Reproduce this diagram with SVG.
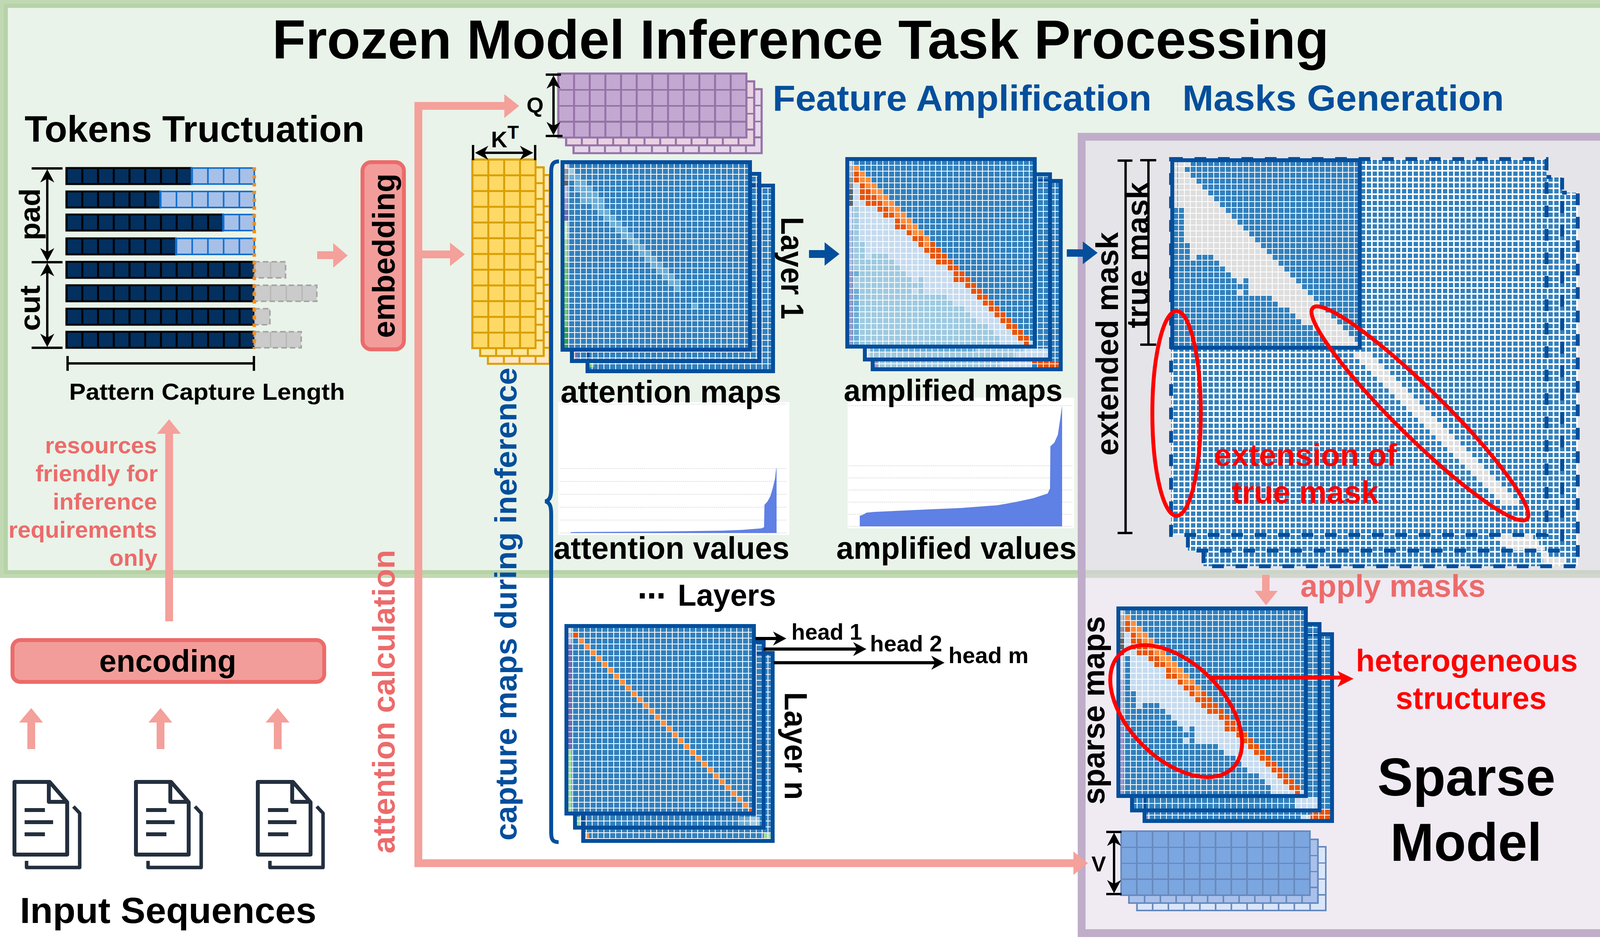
<svg xmlns="http://www.w3.org/2000/svg" width="4122" height="2403" viewBox="0 0 4122 2403">
<style>
text{font-family:"Liberation Sans",Arial,sans-serif;font-weight:700;fill:#000}
.blue{fill:#044E9C}.red{fill:#F00}.pink{fill:#EC6B6B}
.cell{fill:none;stroke-width:1}
.lb{stroke:#C6DBEF}.mid{stroke:#9ECAE1}.bm{stroke:#6BAED6}.dk{stroke:#E6550D}.lt{stroke:#FD8D3C}.gy{stroke:#DEDEDE}
.bar{fill:none;stroke-width:.57}
.mb{fill:#3180BD}
.mg{fill:url(#g15);stroke:#044E9C;stroke-width:10}
.xb{fill:#3180BD}
.xg{fill:url(#g15x);stroke:#044E9C;stroke-width:10;stroke-dasharray:30 30}
.pk{fill:#F4A09B}
.bx{fill:#F29D9A;stroke:#EC6B6B;stroke-width:10}
.dim{fill:none;stroke:#000;stroke-width:6}
.ar{stroke:#000;stroke-width:6;marker-start:url(#ah);marker-end:url(#ah)}
.hd{stroke:#000;stroke-width:8;marker-end:url(#ah)}
.ring{fill:none;stroke:#F00;stroke-width:10}
.doc{fill:none;stroke:#232F3E;stroke-width:10;stroke-linejoin:round}
.q{stroke:#9672A8;stroke-width:5}.y{stroke:#D99F00;stroke-width:5}.v{stroke:#6689BE;stroke-width:4}
.td{fill:url(#vd);stroke:#000;stroke-width:5}.tl{fill:url(#vl);stroke:#0F6FD0;stroke-width:4}.tg{fill:url(#vg);stroke:#A5A5A5;stroke-width:4;stroke-dasharray:14 8}
.chart{fill:#fff}.gl{stroke:#DCDCDC;stroke-width:2;stroke-dasharray:3 2}.bars{fill:#5F80E4}
</style>
<defs>
<pattern id="gu" patternUnits="userSpaceOnUse" width="1" height="1"><path fill="#fff" d="M0,0H.14V1H0ZM0,0H1V.14H0Z"/></pattern>
<pattern id="g15" patternUnits="userSpaceOnUse" width="15" height="15"><path fill="#fff" d="M0,0H2V15H0ZM0,0H15V2H0Z"/></pattern>
<pattern id="g15x" patternUnits="userSpaceOnUse" width="15" height="15"><path fill="#fff" d="M0,0H4V15H0ZM0,0H15V4H0Z"/></pattern>
<pattern id="pq" patternUnits="userSpaceOnUse" x="-2" y="-2" width="40.1" height="41"><path fill="#9672A8" d="M0,0H5V41H0ZM0,0H41V5H0Z"/></pattern>
<pattern id="py" patternUnits="userSpaceOnUse" x="-2" y="-2" width="40.6" height="40.25"><path fill="#D99F00" d="M0,0H5V41H0ZM0,0H41V5H0Z"/></pattern>
<pattern id="pv" patternUnits="userSpaceOnUse" x="-2" y="-2" width="40.3" height="41"><path fill="#6689BE" d="M0,0H4V41H0ZM0,0H41V4H0Z"/></pattern>
<pattern id="vd" patternUnits="userSpaceOnUse" x="168" y="0" width="40.25" height="2400"><rect width="41" height="2400" fill="#03305F"/><rect width="5" height="2400" fill="#000"/></pattern>
<pattern id="vl" patternUnits="userSpaceOnUse" x="168" y="0" width="40.25" height="2400"><rect width="41" height="2400" fill="#A7C0E8"/><rect width="4" height="2400" fill="#0F6FD0"/></pattern>
<pattern id="vg" patternUnits="userSpaceOnUse" x="168" y="0" width="40.25" height="2400"><rect width="41" height="2400" fill="#CBCBCB"/><rect width="3" height="2400" fill="#B5B5B5"/></pattern>
<marker id="ah" markerUnits="userSpaceOnUse" markerWidth="40" markerHeight="40" refX="28" refY="20" orient="auto-start-reverse"><path d="M36,20L2,2L12,20L2,38Z" fill="#000"/></marker>
<clipPath id="mc"><rect x="-.667" y="-.667" width="31.334" height="31.334"/></clipPath>
<rect id="mB" class="mb" x="-1" y="-1" width="32" height="32"/>
<rect id="mF" x="-1" y="-1" width="32" height="32" fill="url(#gu)" stroke="#044E9C" stroke-width=".667"/>
<path id="pDk" d="M0,1.5H1M0,2.5H1M1,3.5H2M1,4.5H3M1,5.5H4M2,6.5H5M4,7.5H6M5,8.5H7M7,9.5H8M7,10.5H9M9,11.5H10M10,12.5H12M11,13.5H12M13,13.5H14M12,14.5H15M13,15.5H16M14,16.5H17M16,17.5H18M17,18.5H19M17,19.5H20M19,20.5H21M20,21.5H22M21,22.5H23M22,23.5H24M23,24.5H25M24,25.5H26M25,26.5H27M26,27.5H28M27,28.5H29M28,29.5H30M29,30.5H30"/>
<path id="pLt" d="M0,.5H1M1,1.5H2M1,2.5H3M2,3.5H4M3,4.5H5M4,5.5H6M5,6.5H7M6,7.5H8M7,8.5H9M8,9.5H10M9,10.5H11M10,11.5H12M12,12.5H13M12,13.5H13"/>
<path id="pLb" d="M0,3.5H1M0,4.5H1M0,5.5H1M0,6.5H2M1,7.5H4M1,8.5H5M1,9.5H7M1,10.5H7M1,11.5H9M1,12.5H10M2,13.5H11M2,14.5H12M2,15.5H3M6,15.5H13M7,16.5H14M8,17.5H16M9,18.5H17M10,19.5H11M12,19.5H17M12,20.5H19M10,21.5H11M12,21.5H20M16,22.5H21M17,23.5H22M19,24.5H23M20,25.5H24M21,26.5H25M23,27.5H26M24,28.5H27M25,29.5H28M25,30.5H29M30,30.5H31"/>
<path id="pMid" d="M0,7.5H1M0,8.5H1M0,9.5H1M0,10.5H1M0,11.5H1M0,12.5H1M0,13.5H2M0,14.5H2M0,15.5H2M3,15.5H6M0,16.5H7M0,17.5H8M1,18.5H9M0,19.5H10M11,19.5H12M0,20.5H12M1,21.5H10M11,21.5H12M1,22.5H16M1,23.5H17M1,24.5H19M1,25.5H20M1,26.5H21M1,27.5H23M1,28.5H24M1,29.5H25M1,30.5H25"/>
<path id="pBm" d="M0,18.5H1M0,21.5H1M0,22.5H1M0,23.5H1M0,24.5H1M0,25.5H1M0,26.5H1M0,27.5H1M0,28.5H1M0,29.5H1M0,30.5H1"/>
<g id="ampBar" class="bar">
<path stroke="#D9D9D9" d="M-.38,-.67V0"/><path stroke="#BDBDBD" d="M-.38,0V2"/><path stroke="#969696" d="M-.38,2V4"/><path stroke="#636363" d="M-.38,4V7"/><path stroke="#DADAEB" d="M-.38,7V11"/><path stroke="#BCBDDC" d="M-.38,11V18"/><path stroke="#9E9AC8" d="M-.38,18V30.67"/>
</g>
<g id="doc" class="doc">
<path d="M37,2001H127L172,2053V2187H37Z"/><path d="M125,2001V2052H172"/><path d="M63,2073H115M63,2104H136M63,2135H115"/><path stroke-width="9" d="M188,2064L204,2081V2220H68V2203"/>
</g>
</defs>

<g id="panels">
<rect id="panel-frozen" x="10" y="10" width="4102" height="1459" fill="#E9F3E9" stroke="#C1D9B2" stroke-width="20"/>
<rect x="15" y="15" width="4092" height="1449" fill="none" stroke="#B6D3A8" stroke-width="10"/>
<rect id="panel-sparse" x="2769" y="350" width="1340" height="2038" fill="#E1D5E7" fill-opacity=".5" stroke="#BFADC9" stroke-width="20"/>
</g>

<text id="title" x="697" y="150" font-size="141" textLength="2705" lengthAdjust="spacingAndGlyphs">Frozen Model Inference Task Processing</text>

<g id="tokens">
<text x="63" y="363" font-size="94" textLength="870" lengthAdjust="spacingAndGlyphs">Tokens Tructuation</text>
<rect class="td" x="170" y="430" width="320" height="41"/><rect class="tl" x="490" y="430" width="161" height="41"/>
<rect class="td" x="170" y="490" width="239.5" height="41"/><rect class="tl" x="409.5" y="490" width="241.5" height="41"/>
<rect class="td" x="170" y="549" width="400.5" height="41"/><rect class="tl" x="570.5" y="549" width="80.5" height="41"/>
<rect class="td" x="170" y="610" width="279.75" height="41"/><rect class="tl" x="449.75" y="610" width="201.25" height="41"/>
<rect class="td" x="170" y="670" width="481" height="41"/><rect class="tg" x="651" y="670" width="80" height="41"/>
<rect class="td" x="170" y="730" width="481" height="41"/><rect class="tg" x="651" y="730" width="160" height="41"/>
<rect class="td" x="170" y="790" width="481" height="41"/><rect class="tg" x="651" y="790" width="40" height="41"/>
<rect class="td" x="170" y="849" width="481" height="41"/><rect class="tg" x="651" y="849" width="120" height="41"/>
<path d="M651,428V892" fill="none" stroke="#FF8C10" stroke-width="9" stroke-dasharray="9 11"/>
<path class="dim" d="M81,431H160M81,671H160M81,890H160"/>
<line class="ar" x1="121" y1="441" x2="121" y2="661"/><line class="ar" x1="121" y1="681" x2="121" y2="880"/>
<path class="dim" d="M173,911V949M173,930H650M650,911V949"/>
<text transform="translate(102 615) rotate(-90)" font-size="75" textLength="133" lengthAdjust="spacingAndGlyphs">pad</text>
<text transform="translate(102 847) rotate(-90)" font-size="75" textLength="117" lengthAdjust="spacingAndGlyphs">cut</text>
<text x="177" y="1023" font-size="60" textLength="706" lengthAdjust="spacingAndGlyphs">Pattern Capture Length</text>
</g>

<g id="embedding">
<rect class="bx" x="928" y="415" width="106" height="479" rx="22"/>
<text transform="translate(1010 865) rotate(-90)" font-size="79" textLength="421" lengthAdjust="spacingAndGlyphs">embedding</text>
</g>

<g id="encoding">
<rect class="bx" x="32" y="1638" width="798" height="107" rx="20"/>
<text x="254" y="1719" font-size="79" textLength="351" lengthAdjust="spacingAndGlyphs">encoding</text>
</g>

<g id="inputs">
<use href="#doc"/><use href="#doc" x="311"/><use href="#doc" x="623"/>
<text x="51" y="2362" font-size="93" textLength="759" lengthAdjust="spacingAndGlyphs">Input Sequences</text>
</g>

<g id="note-resources" text-anchor="end">
<text class="pink" x="402" y="1160" font-size="60">resources</text>
<text class="pink" x="404" y="1232" font-size="60">friendly for</text>
<text class="pink" x="402" y="1304" font-size="60">inference</text>
<text class="pink" x="402" y="1376" font-size="60">requirements</text>
<text class="pink" x="403" y="1448" font-size="60">only</text>
</g>

<g id="queries">
<g transform="translate(1468 228)"><rect class="q" width="482" height="164" fill="#E5D6EA"/><rect width="482" height="164" fill="url(#pq)"/></g>
<g transform="translate(1449 208)"><rect class="q" width="482" height="164" fill="#E8D2E0"/><rect width="482" height="164" fill="url(#pq)"/></g>
<g transform="translate(1429 188)"><rect class="q" width="482" height="164" fill="#C3A9D1"/><rect width="482" height="164" fill="url(#pq)"/></g>
<path class="dim" d="M1397,191H1436M1397,348H1440"/>
<line class="ar" x1="1417" y1="201" x2="1417" y2="338"/>
<text x="1348" y="288" font-size="56">Q</text>
</g>

<g id="keys">
<path d="M1249,448H1407V931H1249Z" fill="#FFE6CC" stroke="#D99F00" stroke-width="5"/>
<path d="M1249,488H1407M1249,528H1407M1249,568H1407M1249,608H1407M1249,649H1407M1249,689H1407M1249,729H1407M1249,770H1407M1249,810H1407M1249,850H1407M1249,890H1407M1290,448V931M1330,448V931M1371,448V931" stroke="#D99F00" stroke-width="5" fill="none"/>
<g transform="translate(1229 428)"><rect class="y" width="163" height="483" fill="#FFE699"/><rect width="163" height="483" fill="url(#py)"/></g>
<g transform="translate(1209 408)"><rect class="y" width="162" height="483" fill="#FFD966"/><rect width="162" height="483" fill="url(#py)"/></g>
<path class="dim" d="M1211,371V410M1370,371V410"/>
<line class="ar" x1="1224" y1="391" x2="1357" y2="391"/>
<text x="1257" y="377" font-size="58">K<tspan dy="-22" font-size="48">T</tspan></text>
</g>

<g id="chart-attention">
<rect class="chart" x="1429" y="1029" width="592" height="340"/>
<path class="gl" d="M1433,1034H2014M1433,1199H2014M1433,1232H2014M1433,1265H2014M1433,1298H2014M1433,1331H2014M1433,1364H2014"/>
<path class="bars" d="M1461,1364V1362L1475,1361.5L1700,1360L1850,1358L1900,1356L1950,1352L1956,1349L1957,1292L1965,1283L1972,1270L1978,1250L1984,1225L1987,1199H1988V1364Z"/>
<text x="1417" y="1430" font-size="79" textLength="604" lengthAdjust="spacingAndGlyphs">attention values</text>
</g>

<g id="chart-amplified">
<rect class="chart" x="2170" y="1018" width="580" height="334"/>
<path class="gl" d="M2173,1038H2745M2173,1192H2745M2173,1223H2745M2173,1254H2745M2173,1285H2745M2173,1316H2745M2173,1347H2745"/>
<path class="bars" d="M2201,1347V1320L2210,1317L2218,1312L2238,1310L2368,1304L2460,1300L2553,1293L2599,1285L2645,1275L2682,1263L2688,1250L2689,1142L2699,1133L2708,1113L2714,1073L2719,1038V1347Z"/>
<text x="2141" y="1430" font-size="79" textLength="615" lengthAdjust="spacingAndGlyphs">amplified values</text>
</g>

<g id="attention-layer-1">
<rect class="mb" x="1504" y="475" width="475" height="475"/><rect class="mb" x="1464" y="445" width="480" height="479"/>
<rect x="1509" y="925" width="12" height="15" fill="#74C476"/><rect x="1469" y="895" width="10" height="24" fill="#756BB1"/>
<rect class="mg" x="1504" y="475" width="475" height="475"/><rect class="mg" x="1464" y="445" width="480" height="479"/>
<g transform="translate(1455 430) scale(15)">
<use href="#mB"/>
<g clip-path="url(#mc)">
<path class="cell mid" d="M0,.5H1"/>
<path class="cell bm" d="M0,1.5h2M1,2.5h2M1,3.5h3M2,4.5h3M2,5.5h4M4,6.5h2M5,7.5h2M6,8.5h2M7,9.5h2M8,10.5h2M9,11.5h2M10,12.5h2M11,13.5h2M12,14.5h2M13,15.5h2M14,16.5h2M15,17.5h2M16,18.5h2M17,19.5h2M18,20.5h1M21,23.5h1"/>
<g class="bar"><path stroke="#DDD" d="M-.38,-.67V0"/><path stroke="#999" d="M-.38,0V2"/><path stroke="#666" d="M-.38,2V3"/><path stroke="#BCBDDC" d="M-.38,3V5"/><path stroke="#9E9AC8" d="M-.38,5V7"/><path stroke="#756BB1" d="M-.38,7V9"/><path stroke="#C7E9C0" d="M-.38,9V12"/><path stroke="#A1D99B" d="M-.38,12V16"/><path stroke="#74C476" d="M-.38,16V27"/><path stroke="#31A354" d="M-.38,27V30.67"/></g>
</g>
<use href="#mF"/>
</g>
<text x="1435" y="1030" font-size="79" textLength="565" lengthAdjust="spacingAndGlyphs">attention maps</text>
<text transform="translate(2000 555) rotate(90)" font-size="82" textLength="262" lengthAdjust="spacingAndGlyphs">Layer 1</text>
</g>

<g id="amplified">
<rect class="mb" x="2234" y="463" width="481.5" height="482"/><rect class="mb" x="2214" y="446" width="474" height="474"/>
<path fill="#9ECAE1" d="M2244,925H2560V940H2244Z"/><path fill="#C6DBEF" d="M2560,925H2640V940H2560Z"/><path fill="#E6550D" d="M2640,925H2710V930H2640ZM2655,930H2710V940H2655Z"/><rect x="2239" y="925" width="9" height="15" fill="#9E9AC8"/>
<rect class="mg" x="2234" y="463" width="481.5" height="482"/>
<path fill="#6BAED6" d="M2228,892H2497V900H2228Z"/><path fill="#9ECAE1" d="M2497,892H2620V900H2497ZM2228,900H2600V915H2228Z"/><path fill="#C6DBEF" d="M2620,892H2683V900H2620ZM2600,900H2683V915H2600Z"/><rect x="2219" y="892" width="9" height="23" fill="#DADAEB"/>
<rect class="mg" x="2214" y="446" width="474" height="474"/>
<g transform="translate(2184 422) scale(15)">
<use href="#mB"/>
<g clip-path="url(#mc)">
<use href="#pLb" class="cell lb"/><use href="#pMid" class="cell mid"/><use href="#pBm" class="cell bm"/><use href="#pLt" class="cell lt"/><use href="#pDk" class="cell dk"/><use href="#ampBar"/>
</g>
<use href="#mF"/>
</g>
<text x="2160" y="1026" font-size="78" textLength="560" lengthAdjust="spacingAndGlyphs">amplified maps</text>
</g>

<text id="more-layers" x="1632" y="1550" font-size="78"><tspan font-family="DejaVu Sans" font-size="72">⋯</tspan><tspan x="1735">Layers</tspan></text>

<g id="attention-layer-n">
<rect class="mb" x="1493" y="1671" width="485" height="481"/><rect class="mb" x="1472" y="1643" width="483" height="475"/>
<rect x="1498" y="2130" width="10" height="17" fill="#FD8D3C"/><rect x="1955" y="2130" width="18" height="17" fill="#A1D99B"/>
<rect class="mg" x="1493" y="1671" width="485" height="481"/>
<rect x="1477" y="2090" width="10" height="23" fill="#A1D99B"/><rect x="1893" y="2090" width="25" height="23" fill="#6BAED6"/><rect x="1918" y="2090" width="27" height="23" fill="#9ECAE1"/>
<rect class="mg" x="1472" y="1643" width="483" height="475"/>
<g transform="translate(1465 1617) scale(15)">
<use href="#mB"/>
<g clip-path="url(#mc)">
<path class="cell dk" d="M0,.5h1M30,30.5h1"/>
<path class="cell lt" d="M1,1.5h1M2,2.5h1M3,3.5h1M4,4.5h1M5,5.5h1M6,6.5h1M7,7.5h1M8,8.5h1M9,9.5h1M10,10.5h1M11,11.5h1M12,12.5h1M13,13.5h1M14,14.5h1M15,15.5h1M16,16.5h1M17,17.5h1M18,18.5h1M19,19.5h1M20,20.5h1M21,21.5h1M22,22.5h1M23,23.5h1M24,24.5h1M25,25.5h1M26,26.5h1M27,27.5h1M28,28.5h1M29,29.5h1"/>
<g class="bar"><path stroke="#DDD" d="M-.38,-.67V0"/><path stroke="#BCBDDC" d="M-.38,0V2"/><path stroke="#756BB1" d="M-.38,2V20"/><path stroke="#A1D99B" d="M-.38,20V30.67"/></g>
</g>
<use href="#mF"/>
</g>
<text transform="translate(2009 1771) rotate(90)" font-size="82" textLength="276" lengthAdjust="spacingAndGlyphs">Layer n</text>
<text x="2026" y="1637" font-size="57" textLength="181" lengthAdjust="spacingAndGlyphs">head 1</text>
<text x="2227" y="1667" font-size="57" textLength="185" lengthAdjust="spacingAndGlyphs">head 2</text>
<text x="2428" y="1697" font-size="57" textLength="205" lengthAdjust="spacingAndGlyphs">head m</text>
</g>

<g id="masks">
<rect class="xb" x="3081" y="493" width="958" height="956"/><path fill="#DEDEDE" d="M3945,1410H3965V1425H4010V1440H4020V1449H3960V1440H3950V1425H3945Z"/>
<rect class="xg" x="3081" y="493" width="958" height="956"/>
<rect class="xb" x="3041" y="453" width="958" height="956"/><path fill="#DEDEDE" d="M3825,1369H3925V1380H3940V1395H3955V1409H3855V1395H3840V1380H3825Z"/>
<rect class="xg" x="3041" y="453" width="958" height="956"/>
<rect class="xb" x="2998" y="407" width="961" height="962"/>
<path fill="#DEDEDE" d="M3465,900H3510v15h15v15h15v15h15v15h15v15h15v15h15v15h15v15h15v15h15v15h15v15h15v15h15v15h15v15h15v15h15v15h15v15h15v15h15v15h15v15h15v15h15v15h15v15h15v15h15v15h15v15h-45v-15h-15v-15h-15v-15h-15v-15h-15v-15h-15v-15h-15v-15h-15v-15h-15v-15h-15v-15h-15v-15h-15v-15h-15v-15h-15v-15h-15v-15h-15v-15h-15v-15h-15v-15h-15v-15h-15v-15h-15v-15h-15v-15h-15v-15h-15v-15h-15v-15h-15Z"/>
<rect class="xg" x="2998" y="407" width="961" height="962"/>
<g transform="translate(3016 425) scale(15)">
<use href="#mB"/>
<g clip-path="url(#mc)">
<use href="#pLb" class="cell gy"/><use href="#pLt" class="cell gy"/><use href="#pDk" class="cell gy"/>
<path class="bar" stroke="#DEDEDE" d="M-.38,-.67V7"/>
<path class="cell gy" d="M0,-.33H2"/>
</g>
<use href="#mF"/>
</g>
<path class="dim" d="M2861,411H2899M2881.5,411V1364M2861,1364H2899"/>
<path class="dim" d="M2919,410H2960M2940,410V882M2919,882H2960"/>
<text transform="translate(2862 1166) rotate(-90)" font-size="79" textLength="572" lengthAdjust="spacingAndGlyphs">extended mask</text>
<text transform="translate(2940 840) rotate(-90)" font-size="79" textLength="374" lengthAdjust="spacingAndGlyphs">true mask</text>
<ellipse class="ring" cx="3012" cy="1058" rx="62" ry="262"/>
<ellipse class="ring" cx="3635" cy="1058" rx="385" ry="62" transform="rotate(44.6 3635 1058)"/>
<text class="red" x="3108" y="1192" font-size="79" textLength="468" lengthAdjust="spacingAndGlyphs">extension of</text>
<text class="red" x="3153" y="1287" font-size="79" textLength="376" lengthAdjust="spacingAndGlyphs">true mask</text>
</g>

<g id="sparse-maps">
<rect class="mb" x="2930" y="1623" width="480" height="478"/><rect class="mb" x="2898" y="1597" width="480" height="477"/>
<path fill="#C6DBEF" d="M3330,2085H3355V2096H3330Z"/><path fill="#E6550D" d="M3355,2070H3410V2096H3355Z"/><rect x="2935" y="2085" width="9" height="11" fill="#9E9AC8"/>
<rect class="mg" x="2930" y="1623" width="480" height="478"/>
<path fill="#C6DBEF" d="M3315,2040H3373V2069H3315Z"/>
<rect class="mg" x="2898" y="1597" width="480" height="477"/>
<g transform="translate(2878 1572) scale(15)">
<use href="#mB"/>
<g clip-path="url(#mc)">
<use href="#pLb" class="cell lb"/><use href="#pLt" class="cell lt"/><use href="#pDk" class="cell dk"/><use href="#ampBar"/>
</g>
<use href="#mF"/>
</g>
<text transform="translate(2827 2059) rotate(-90)" font-size="79" textLength="482" lengthAdjust="spacingAndGlyphs">sparse maps</text>
<ellipse class="ring" cx="3011" cy="1820" rx="205" ry="122" transform="rotate(45 3011 1820)"/>
<path d="M3099,1734H3440" stroke="#F00" stroke-width="10" fill="none"/>
<path class="red" d="M3465,1737L3424,1717L3434,1737L3424,1758Z"/>
<text class="red" x="3471" y="1718" font-size="79" textLength="568" lengthAdjust="spacingAndGlyphs">heterogeneous</text>
<text class="red" x="3573" y="1814" font-size="79" textLength="386" lengthAdjust="spacingAndGlyphs">structures</text>
</g>

<g id="values">
<g transform="translate(2910.5 2167)"><rect class="v" width="483.5" height="163" fill="#D9E6FA"/><rect width="483.5" height="163" fill="url(#pv)"/></g>
<g transform="translate(2890 2148)"><rect class="v" width="484" height="163" fill="#A9C1EA"/><rect width="484" height="163" fill="url(#pv)"/></g>
<g transform="translate(2870 2127)"><rect class="v" width="483.5" height="164" fill="#7CA6DF"/><rect width="483.5" height="164" fill="url(#pv)"/></g>
<path class="dim" d="M2832,2129H2871M2832,2288H2871"/>
<line class="ar" x1="2852" y1="2139" x2="2852" y2="2278"/>
<text x="2794" y="2230" font-size="56">V</text>
</g>

<text id="sparse-model-1" x="3526" y="2036" font-size="137" textLength="456" lengthAdjust="spacingAndGlyphs">Sparse</text>
<text id="sparse-model-2" x="3559" y="2203" font-size="137" textLength="388" lengthAdjust="spacingAndGlyphs">Model</text>

<text class="blue" x="1978" y="283" font-size="92" textLength="970" lengthAdjust="spacingAndGlyphs">Feature Amplification</text>
<text class="blue" x="3027" y="283" font-size="92" textLength="823" lengthAdjust="spacingAndGlyphs">Masks Generation</text>
<text class="blue" transform="translate(1322 2151) rotate(-90)" font-size="78" textLength="1210" lengthAdjust="spacingAndGlyphs">capture maps during ineference</text>
<text class="pink" transform="translate(1010 2184) rotate(-90)" font-size="80" textLength="777" lengthAdjust="spacingAndGlyphs">attention calculation</text>
<text class="pink" x="3329" y="1527" font-size="79" textLength="474" lengthAdjust="spacingAndGlyphs">apply masks</text>

<g id="connectors">
<path class="pk" d="M1061,2219V261H1291V241L1329,271L1291,302V281H1081V2199H2748V2179L2785,2209L2748,2239V2219Z"/>
<path class="pk" d="M1081,641H1152V621L1190,651L1152,681V661H1081Z"/>
<path class="pk" d="M812,643H853V622L890,654L853,685V663H812Z"/>
<path class="pk" d="M423,1590V1110H402L433,1073L463,1110H443V1590Z"/>
<path class="pk" d="M70,1917V1849H49L80,1812L110,1849H90V1917Z"/>
<path class="pk" d="M401,1917V1849H380L411,1812L441,1849H421V1917Z"/>
<path class="pk" d="M701,1917V1849H680L711,1812L741,1849H721V1917Z"/>
<path class="pk" d="M3231,1471V1512H3212L3241,1549L3271,1512H3250V1471Z"/>
<path class="blue" d="M2071,640H2111V620L2149,650L2111,680V660H2071Z"/>
<path class="blue" d="M2731,638H2772V618L2810,647L2772,676V657H2731Z"/>
<path d="M1431,413C1416,413 1411,420 1411,440V1250C1411,1270 1408,1280 1396,1283C1408,1286 1411,1296 1411,1316V2130C1411,2150 1416,2155 1430,2155" fill="none" stroke="#044E9C" stroke-width="10"/>
<line class="hd" x1="1934" y1="1634" x2="2005" y2="1634"/>
<line class="hd" x1="1955" y1="1661" x2="2210" y2="1661"/>
<line class="hd" x1="1981" y1="1696" x2="2410" y2="1696"/>
</g>
</svg>
